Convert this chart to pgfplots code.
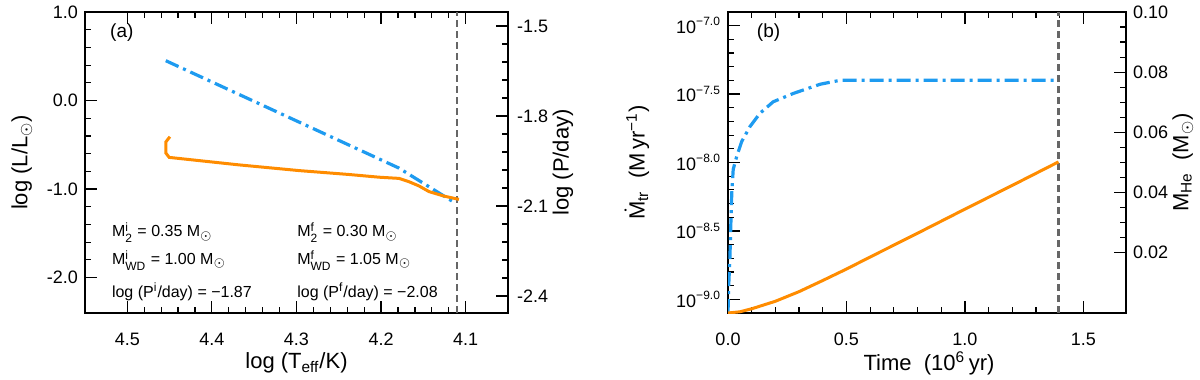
\documentclass[border=0pt]{standalone}
\usepackage{amsmath}
\usepackage{fontspec}
\setmainfont{Liberation Sans}
\usepackage{pgfplots}
\pgfplotsset{compat=1.18}
\definecolor{mdotblue}{HTML}{1E9BF0}
\definecolor{heorange}{HTML}{FF8C00}
\definecolor{limgray}{HTML}{666666}

\newcommand{\msun}{M\textsubscript{$\odot$}}
\newcommand{\ann}{\fontsize{8}{9.6}\selectfont}

\tikzset{anntext/.style={anchor=west, inner sep=0pt, font=\ann}}
\pgfplotsset{
  every axis/.append style={
    scale only axis, height=150.5pt,
    tick align=inside, major tick length=6pt, minor tick length=3pt,
    every tick/.style={black, line width=0.6pt},
    axis line style={line width=0.8pt},
    tick label style={font=\fontsize{9}{10}\selectfont},
    label style={font=\fontsize{11}{13}\selectfont},
    /pgf/number format/assume math mode=true,
  },
  blueline/.style={mdotblue, line width=1.6pt, dash pattern=on 7pt off 2.5pt on 1.5pt off 2.5pt},
  orangeline/.style={heorange, line width=1.5pt},
  limline/.style={limgray, line width=1.1pt, dash pattern=on 3.5pt off 2pt},
}

\begin{document}
\begin{tikzpicture}
\path[use as bounding box] (-42.5pt,-33.5pt) rectangle (557.5pt,156.5pt);

% ---- panel (a): left axis, log L
\begin{axis}[
    at={(0pt,0pt)}, anchor=south west, width=211.5pt,
    xmin=4.05, xmax=4.55, x dir=reverse,
    ymin=-2.4, ymax=1.0,
    xtick={4.1,4.2,4.3,4.4,4.5}, minor x tick num=4,
    ytick={-2,-1,0,1}, minor y tick num=4,
    xtick pos=both, ytick pos=left,
    xticklabel style={yshift=-6.5pt, /pgf/number format/.cd, fixed, fixed zerofill, precision=1},
    yticklabel style={/pgf/number format/.cd, fixed, fixed zerofill, precision=1},
    xlabel={log (T\textsubscript{eff}/K)},
    ylabel={log (L/L\textsubscript{$\odot$})},
    xlabel style={at={(axis description cs:0.5,-0.167)}, anchor=center},
    ylabel style={at={(axis description cs:-0.149,0.5)}, anchor=center},
  ]
  \addplot[limline] coordinates {(4.11,-2.4) (4.11,1.0)};
  % luminosity
  \addplot[blueline] coordinates {
    (4.4545,0.450) (4.1789,-0.763) (4.1120,-1.160)
  };
  \node[anchor=west, font=\fontsize{9.5}{11}\selectfont] at (rel axis cs:0.043,0.93) {(a)};
  \node[anntext] at (rel axis cs:0.063,0.267) {M$^{\text{i}}_{\text{2}}$ = 0.35 \msun};
  \node[anntext] at (rel axis cs:0.063,0.175) {M$^{\text{i}}_{\text{WD}}$ = 1.00 \msun};
  \node[anntext] at (rel axis cs:0.063,0.071) {log (P$^{\text{i}}$/day) = −1.87};
  \node[anntext] at (rel axis cs:0.501,0.267) {M$^{\text{f}}_{\text{2}}$ = 0.30 \msun};
  \node[anntext] at (rel axis cs:0.501,0.175) {M$^{\text{f}}_{\text{WD}}$ = 1.05 \msun};
  \node[anntext] at (rel axis cs:0.501,0.071) {log (P$^{\text{f}}$/day) = −2.08};
\end{axis}

% ---- panel (a): right axis, log P
\begin{axis}[
    at={(0pt,0pt)}, anchor=south west, width=211.5pt,
    xmin=4.05, xmax=4.55, x dir=reverse,
    ymin=-2.457, ymax=-1.453,
    axis x line=none, axis y line*=right,
    ytick={-2.4,-2.1,-1.8,-1.5}, minor y tick num=4,
    yticklabel style={xshift=1pt, /pgf/number format/.cd, fixed, fixed zerofill, precision=1},
    ylabel={log (P/day)},
    ylabel style={at={(axis description cs:1.13,0.5)}, anchor=center, rotate=0},
  ]
  \addplot[orangeline] coordinates {
    (4.4496,-1.869) (4.4543,-1.886) (4.4543,-1.924) (4.4504,-1.938)
    (4.3678,-1.963) (4.2969,-1.982) (4.2379,-1.995) (4.2025,-2.004)
    (4.1789,-2.008) (4.1671,-2.019) (4.1553,-2.033) (4.1434,-2.052)
    (4.1257,-2.067) (4.1080,-2.078)
  };
\end{axis}

% ---- panel (b): left axis, mass transfer rate
\begin{axis}[
    at={(321.5pt,0pt)}, anchor=south west, width=199pt,
    xmin=0, xmax=1.68, ymin=-9.1, ymax=-6.9,
    xtick={0,0.5,1,1.5}, minor x tick num=4,
    ytick={-9,-8.5,-8,-7.5,-7}, minor y tick num=4,
    yticklabels={10\textsuperscript{−9.0},10\textsuperscript{−8.5},10\textsuperscript{−8.0},10\textsuperscript{−7.5},10\textsuperscript{−7.0}},
    xticklabels={0.0,0.5,1.0,1.5},
    xticklabel style={yshift=-6.5pt},
    xtick pos=both, ytick pos=left,
    xlabel={Time\ \ (10\textsuperscript{6}\,yr)},
    ylabel={$\dot{\text{M}}_{\text{tr}}$\ \ (M\,yr\textsuperscript{−1})},
    xlabel style={at={(axis description cs:0.505,-0.167)}, anchor=center},
    ylabel style={at={(axis description cs:-0.229,0.5)}, anchor=center},
  ]
  \addplot[limline] coordinates {(1.395,-9.1) (1.395,-6.9)};
  \addplot[blueline] coordinates {
    (0.000,-9.10) (0.003,-8.90) (0.008,-8.70) (0.012,-8.45) (0.016,-8.22)
    (0.022,-8.05) (0.037,-7.954) (0.058,-7.846) (0.093,-7.737)
    (0.135,-7.640) (0.191,-7.556) (0.276,-7.495) (0.389,-7.428)
    (0.473,-7.399) (1.395,-7.399)
  };
  \node[anchor=west, font=\fontsize{9.5}{11}\selectfont] at (rel axis cs:0.055,0.93) {(b)};
\end{axis}

% ---- panel (b): right axis, accumulated helium mass
\begin{axis}[
    at={(321.5pt,0pt)}, anchor=south west, width=199pt,
    xmin=0, xmax=1.68, ymin=0, ymax=0.10,
    axis x line=none, axis y line*=right,
    ytick={0.02,0.04,0.06,0.08,0.10}, minor y tick num=3,
    yticklabel style={/pgf/number format/.cd, fixed, fixed zerofill, precision=2},
    ylabel={M\textsubscript{He}\ \ (M\textsubscript{$\odot$})},
    ylabel style={at={(axis description cs:1.143,0.5)}, anchor=center, rotate=0},
  ]
  \addplot[orangeline] coordinates {
    (0.000,0.0000) (0.050,0.0004) (0.100,0.0014) (0.200,0.0039)
    (0.300,0.0071) (0.400,0.0108) (0.500,0.0146) (0.600,0.0186)
    (0.800,0.0265) (1.000,0.0345) (1.200,0.0424) (1.395,0.0502)
  };
\end{axis}
\end{tikzpicture}
\end{document}
